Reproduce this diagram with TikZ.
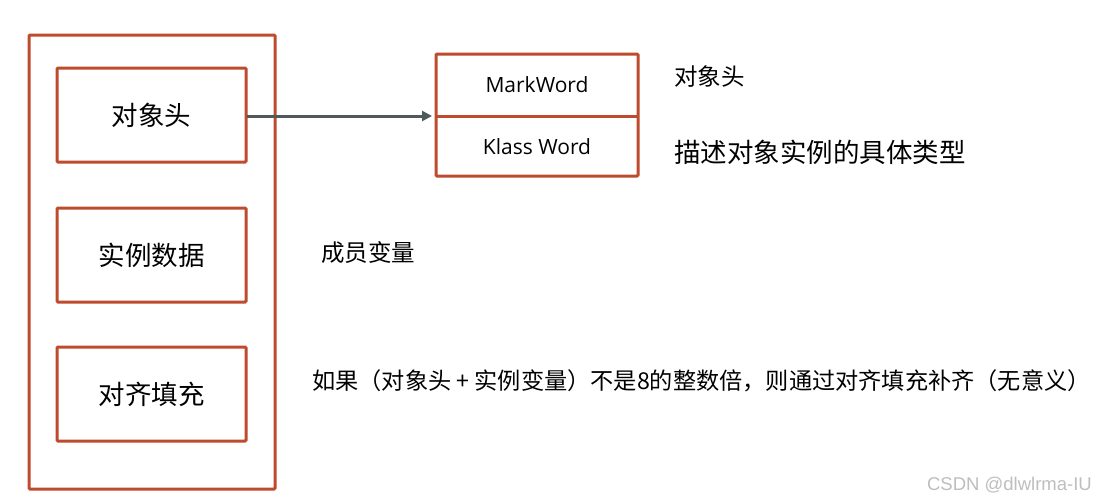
\documentclass[tikz,border=0pt]{standalone}
\usepackage{fontspec}
\usetikzlibrary{arrows.meta}
\setmainfont{Noto Sans CJK SC}
\newfontfamily\latinf{Open Sans}
\newfontfamily\wmf{Liberation Sans}
\definecolor{boxred}{RGB}{190,75,45}
\definecolor{arrowgray}{RGB}{80,90,90}
\definecolor{wm}{RGB}{190,190,190}
\begin{document}
\begin{tikzpicture}[x=1pt,y=-1pt,
  redbox/.style={draw=boxred,line width=3pt,rounded corners=1pt},
  lbl/.style={inner sep=0pt,font=\fontsize{26.5}{30}\selectfont},
  note/.style={inner sep=0pt,anchor=west,font=\fontsize{23.5}{27}\selectfont}]
\useasboundingbox (0,0) rectangle (1098,501);
\fill[white] (0,0) rectangle (1098,501);
\draw[redbox] (29,35) rectangle (275,489);
\draw[redbox] (57,68) rectangle (246,162);
\draw[redbox] (57,208) rectangle (246,302);
\draw[redbox] (57,347) rectangle (246,441);
\node[lbl] (h) at (151.5,115) {对象头};
\node[lbl] (d) at (151.5,255) {实例数据};
\node[lbl] (p) at (151.5,394) {对齐填充};
\coordinate (hr) at (247,116);
\draw[redbox] (436,54) rectangle (638,176);
\draw[boxred,line width=3pt] (436,116) -- (638,116);
\node[inner sep=0pt,font=\latinf\fontsize{21}{24}\selectfont] (mw) at (537,85) {MarkWord};
\node[inner sep=0pt,font=\latinf\fontsize{21}{24}\selectfont] (kw) at (537,147) {Klass Word};
\coordinate (rl) at (432,116);
\draw[arrowgray,line width=3pt,-{Triangle[length=10pt,width=10pt]}] (hr) -- (rl);
\node[note] (n1) at (674,77) {对象头};
\node[note,font=\fontsize{26.5}{30}\selectfont] (n2) at (674,152) {描述对象实例的具体类型};
\node[note] (n3) at (321,253) {成员变量};
\node[note,font=\fontsize{23.2}{27}\selectfont] (n4) at (312,381) {如果（对象头 + 实例变量）不是8的整数倍，则通过对齐填充补齐（无意义）};
\node[inner sep=0pt,anchor=east,text=wm,font=\wmf\fontsize{18.5}{22}\selectfont] (w) at (1092,485) {CSDN @dlwlrma-IU};
\end{tikzpicture}
\end{document}
